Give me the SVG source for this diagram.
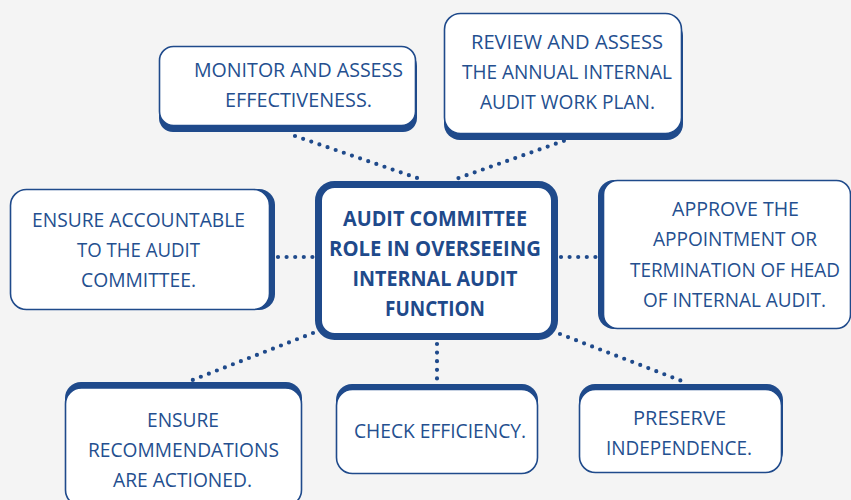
<svg xmlns="http://www.w3.org/2000/svg" width="851" height="500" viewBox="0 0 851 500">
<style>
.bg{fill:#f4f4f4}
.sh{fill:#1f4a8b}
.bx{fill:#ffffff;stroke:#1f4a8b;stroke-width:1.6}
.ctr{fill:#ffffff;stroke:#1f4a8b;stroke-width:7}
.t{font-family:"Open Sans","Noto Sans",sans-serif;font-size:20px;fill:#244f8f}
.tb{font-family:"Open Sans","Noto Sans",sans-serif;font-size:21px;font-weight:bold;fill:#1f4a8b}
.dot{stroke:#1f4a8b;stroke-width:4.2;stroke-linecap:round;stroke-dasharray:0 8.6;fill:none}
</style>
<rect class="bg" x="0" y="0" width="851" height="500"/>
<g id="connectors">
<line class="dot" x1="295" y1="136" x2="423" y2="180"/>
<line class="dot" x1="572" y1="138" x2="453" y2="180"/>
<line class="dot" x1="278" y1="257" x2="313" y2="257"/>
<line class="dot" x1="561" y1="257" x2="597" y2="257"/>
<line class="dot" x1="437" y1="344" x2="437" y2="380"/>
<line class="dot" x1="313" y1="333" x2="190" y2="381"/>
<line class="dot" x1="560" y1="334" x2="687" y2="383"/>
</g>
<g id="center">
<rect class="ctr" x="318.5" y="184.5" width="236" height="152" rx="16"/>
<text class="tb" x="435" y="226" text-anchor="middle" textLength="184" lengthAdjust="spacingAndGlyphs">AUDIT COMMITTEE</text>
<text class="tb" x="435" y="256" text-anchor="middle" textLength="212" lengthAdjust="spacingAndGlyphs">ROLE IN OVERSEEING</text>
<text class="tb" x="435" y="286" text-anchor="middle" textLength="165" lengthAdjust="spacingAndGlyphs">INTERNAL AUDIT</text>
<text class="tb" x="435" y="316" text-anchor="middle" textLength="100" lengthAdjust="spacingAndGlyphs">FUNCTION</text>
</g>
<g id="monitor">
<rect class="sh" x="159" y="52" width="258" height="80" rx="14"/>
<rect class="bx" x="159.5" y="46.5" width="256" height="79" rx="14"/>
<text class="t" x="298.5" y="77" text-anchor="middle" textLength="209" lengthAdjust="spacingAndGlyphs">MONITOR AND ASSESS</text>
<text class="t" x="298.5" y="107" text-anchor="middle" textLength="147" lengthAdjust="spacingAndGlyphs">EFFECTIVENESS.</text>
</g>
<g id="review">
<rect class="sh" x="444" y="20" width="239" height="120" rx="16"/>
<rect class="bx" x="444.5" y="13.5" width="237" height="120" rx="16"/>
<text class="t" x="567" y="49" text-anchor="middle" textLength="192" lengthAdjust="spacingAndGlyphs">REVIEW AND ASSESS</text>
<text class="t" x="567" y="79" text-anchor="middle" textLength="210" lengthAdjust="spacingAndGlyphs">THE ANNUAL INTERNAL</text>
<text class="t" x="567.5" y="109" text-anchor="middle" textLength="175" lengthAdjust="spacingAndGlyphs">AUDIT WORK PLAN.</text>
</g>
<g id="accountable">
<rect class="sh" x="15" y="189" width="260" height="121" rx="16"/>
<rect class="bx" x="10.5" y="189.5" width="259" height="120" rx="16"/>
<text class="t" x="138.5" y="227" text-anchor="middle" textLength="213" lengthAdjust="spacingAndGlyphs">ENSURE ACCOUNTABLE</text>
<text class="t" x="138.5" y="257" text-anchor="middle" textLength="123" lengthAdjust="spacingAndGlyphs">TO THE AUDIT</text>
<text class="t" x="138.5" y="287" text-anchor="middle" textLength="115" lengthAdjust="spacingAndGlyphs">COMMITTEE.</text>
</g>
<g id="approve">
<rect class="sh" x="598" y="180" width="248" height="149" rx="16"/>
<rect class="bx" x="603.5" y="180.5" width="247" height="148" rx="14"/>
<text class="t" x="735.5" y="216" text-anchor="middle" textLength="127" lengthAdjust="spacingAndGlyphs">APPROVE THE</text>
<text class="t" x="735" y="246" text-anchor="middle" textLength="164" lengthAdjust="spacingAndGlyphs">APPOINTMENT OR</text>
<text class="t" x="735" y="277" text-anchor="middle" textLength="210" lengthAdjust="spacingAndGlyphs">TERMINATION OF HEAD</text>
<text class="t" x="734.5" y="307" text-anchor="middle" textLength="183" lengthAdjust="spacingAndGlyphs">OF INTERNAL AUDIT.</text>
</g>
<g id="recommendations">
<rect class="sh" x="65" y="382" width="237" height="123" rx="16"/>
<rect class="bx" x="65.5" y="388" width="236" height="118" rx="16"/>
<text class="t" x="183" y="427" text-anchor="middle" textLength="72" lengthAdjust="spacingAndGlyphs">ENSURE</text>
<text class="t" x="183.5" y="457" text-anchor="middle" textLength="191" lengthAdjust="spacingAndGlyphs">RECOMMENDATIONS</text>
<text class="t" x="182.5" y="487" text-anchor="middle" textLength="139" lengthAdjust="spacingAndGlyphs">ARE ACTIONED.</text>
</g>
<g id="efficiency">
<rect class="sh" x="336" y="384" width="202" height="84" rx="16"/>
<rect class="bx" x="336.5" y="389.5" width="201" height="84" rx="16"/>
<text class="t" x="440" y="438" text-anchor="middle" textLength="172" lengthAdjust="spacingAndGlyphs">CHECK EFFICIENCY.</text>
</g>
<g id="preserve">
<rect class="sh" x="579" y="384" width="204" height="84" rx="16"/>
<rect class="bx" x="579.5" y="389.5" width="202" height="83" rx="16"/>
<text class="t" x="679.5" y="425" text-anchor="middle" textLength="93" lengthAdjust="spacingAndGlyphs">PRESERVE</text>
<text class="t" x="679" y="455" text-anchor="middle" textLength="146" lengthAdjust="spacingAndGlyphs">INDEPENDENCE.</text>
</g>
</svg>
